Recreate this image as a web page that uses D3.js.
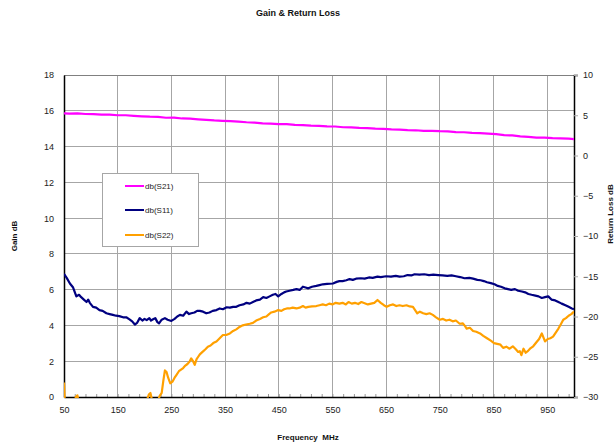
<!DOCTYPE html>
<html><head><meta charset="utf-8">
<script src="https://cdn.jsdelivr.net/npm/d3@7/dist/d3.min.js"></script>
<style>
html,body{margin:0;padding:0;background:#fff;}
svg{display:block;font-family:"Liberation Sans",Arial,sans-serif;}
</style></head><body>
<svg id="chart" width="615" height="446"></svg>
<script>
const xTicks = [50,150,250,350,450,550,650,750,850,950];
const yLeftTicks = [0,2,4,6,8,10,12,14,16,18];
const yRightTicks = [-30,-25,-20,-15,-10,-5,0,5,10];
const seriesNames = ["db(S21)","db(S11)","db(S22)"];

const s21Freq = [50,60,75,90,105,120,135,150,165,180,195,210,225,240,255,270,285,300,315,330,345,360,375,390,405,420,435,450,465,480,495,510,525,540,555,570,585,600,615,630,645,660,675,690,705,720,735,750,765,780,795,810,825,840,855,870,885,900,915,930,945,960,975,990,1000];
const s21 = [15.86,15.84,15.85,15.82,15.81,15.78,15.78,15.75,15.75,15.72,15.69,15.67,15.66,15.61,15.62,15.57,15.56,15.52,15.49,15.46,15.44,15.42,15.39,15.36,15.34,15.3,15.28,15.25,15.25,15.21,15.2,15.17,15.16,15.13,15.12,15.08,15.07,15.04,15.03,15.0,14.99,14.96,14.95,14.92,14.91,14.88,14.88,14.86,14.85,14.81,14.8,14.77,14.75,14.72,14.69,14.64,14.62,14.57,14.54,14.5,14.5,14.47,14.46,14.44,14.42];

const s11Freq = [50,55,61,67,73,78,82,87,92,95,98,104,110,116,122,129,135,141,147,153,160,166,172,177,182,186,191,196,200,204,209,212,216,220,224,227,232,238,243,250,256,261,266,272,278,283,287,293,298,303,309,315,321,327,334,340,346,353,359,365,371,377,384,390,396,402,408,415,421,427,433,439,444,449,455,460,464,470,477,483,489,495,500,505,512,520,526,532,540,551,558,563,569,576,582,588,594,603,610,618,625,634,640,650,659,668,675,683,690,697,703,712,721,730,738,747,755,764,772,780,788,796,805,812,820,826,832,838,845,852,858,864,871,877,883,890,896,903,909,915,921,928,934,940,946,952,958,965,971,977,984,990,996,1000];
const s11 = [-14.7,-15.2,-15.9,-16.4,-17.5,-17.3,-17.6,-17.9,-18.2,-17.9,-18.3,-18.8,-18.9,-19.2,-19.3,-19.6,-19.7,-19.8,-19.9,-19.95,-20.1,-20.1,-20.35,-20.6,-21.0,-20.8,-20.2,-20.5,-20.3,-20.45,-20.2,-20.5,-20.35,-20.2,-20.7,-20.85,-20.4,-20.2,-20.4,-20.55,-20.3,-20.0,-19.8,-19.9,-19.4,-19.7,-19.6,-19.5,-19.3,-19.3,-19.4,-19.6,-19.5,-19.3,-19.2,-19.0,-19.1,-18.85,-18.9,-18.8,-18.8,-18.6,-18.5,-18.3,-18.4,-18.2,-18.0,-17.9,-17.6,-17.7,-17.5,-17.3,-17.2,-17.5,-17.2,-17.0,-16.9,-16.8,-16.7,-16.6,-16.7,-16.3,-16.4,-16.5,-16.3,-16.2,-16.1,-16.0,-15.95,-15.9,-15.7,-15.6,-15.6,-15.5,-15.35,-15.45,-15.3,-15.25,-15.3,-15.15,-15.2,-15.05,-15.1,-15.0,-15.05,-14.95,-15.05,-15.0,-14.85,-14.9,-14.75,-14.8,-14.75,-14.85,-14.8,-14.85,-14.9,-14.95,-14.9,-15.0,-15.1,-15.25,-15.2,-15.3,-15.45,-15.5,-15.6,-15.75,-15.85,-16.0,-16.2,-16.3,-16.5,-16.6,-16.7,-16.6,-16.8,-16.9,-17.0,-17.2,-17.3,-17.4,-17.5,-17.7,-17.6,-17.5,-17.9,-18.0,-18.2,-18.4,-18.6,-18.8,-19.0,-19.1];

const s22Freq = [50,52,60,70,72,75,78,90,120,150,180,200,205,208,211,214,218,225,228,232,235,238,241,244,248,252,256,259,264,268,272,276,280,284,287,290,293.5,297,300,303,308,313,318,323,328,334,340,346,352,359,365,371,377,383,389,396,402,408,415,421,427,432,436,442,449,455,460,465,470,476,483,489,495,500,505,512,520,526,532,538,544,550,556,563,569,575,580,586,592,598,604,610,616,622,628,634,640,646,651,657,663,669,675,681,688,694,700,704,708,713,719,725,731,737,743,750,756,762,768,774,780,787,793,797,800,806,812,818,825,831,838,845,851,857,863,868,874,880,886,892,896,899,902,906,910,914,918,924,930,935,940,943,946,951,956,961,966,971,976,980,985,990,995,1000];
const s22 = [-28.2,-31.5,-32,-31,-30.0,-29.8,-31,-32,-32,-32,-32,-31,-30.3,-29.7,-29.5,-30.4,-31,-30.5,-29.9,-29.5,-28.0,-26.7,-26.9,-27.6,-28.3,-28.1,-27.6,-27.3,-26.8,-26.6,-26.4,-26.1,-25.9,-25.6,-25.2,-25.5,-26.0,-25.3,-25.0,-24.7,-24.4,-24.1,-23.75,-23.6,-23.3,-23.1,-22.7,-22.3,-22.3,-22.1,-21.8,-21.6,-21.3,-21.1,-21.0,-20.9,-20.8,-20.5,-20.3,-20.1,-20.0,-19.7,-19.5,-19.4,-19.2,-19.3,-19.1,-19.0,-19.0,-18.9,-19.0,-18.9,-18.7,-18.9,-18.8,-18.75,-18.7,-18.6,-18.5,-18.6,-18.4,-18.5,-18.3,-18.4,-18.3,-18.5,-18.2,-18.4,-18.3,-18.45,-18.2,-18.35,-18.5,-18.4,-18.3,-17.95,-18.3,-18.6,-18.8,-18.6,-18.5,-18.7,-18.6,-18.7,-18.6,-18.75,-18.8,-19.2,-19.6,-19.4,-19.6,-19.7,-19.6,-19.8,-20.1,-20.4,-20.3,-20.5,-20.4,-20.6,-20.5,-20.9,-20.85,-21.2,-21.5,-21.4,-21.8,-21.9,-22.1,-22.4,-22.7,-23.0,-23.3,-23.4,-23.5,-23.9,-23.75,-24.0,-23.7,-24.1,-24.4,-24.3,-24.8,-24.0,-24.5,-24.3,-24.0,-23.7,-23.2,-22.8,-22.1,-22.6,-23.1,-22.8,-22.7,-22.5,-22.0,-21.5,-20.9,-20.4,-20.2,-19.9,-19.7,-19.4];

const svg = d3.select("#chart");
svg.append("rect").attr("width",615).attr("height",446).attr("fill","#fff");

const L = 64, R = 574, T = 75, B = 397;
const x = d3.scaleLinear().domain([50,1000]).range([L,R]);
const yL = d3.scaleLinear().domain([0,18]).range([B,T]);
const yR = d3.scaleLinear().domain([-30,10]).range([B,T]);

// grid
const grid = svg.append("g");
grid.selectAll(".vg").data(xTicks.slice(1)).join("line")
  .attr("x1",d=>x(d)).attr("x2",d=>x(d)).attr("y1",T).attr("y2",B)
  .attr("stroke","#a6a6a6").attr("stroke-width",1).attr("shape-rendering","crispEdges");
grid.selectAll(".hg").data(yLeftTicks.slice(1)).join("line")
  .attr("x1",L).attr("x2",R).attr("y1",d=>yL(d)).attr("y2",d=>yL(d))
  .attr("stroke",d=>d===18?"#808080":"#a6a6a6").attr("stroke-width",1).attr("shape-rendering","crispEdges");

// minor ticks on bottom
const minor = d3.range(50,1001,20);
svg.append("g").attr("transform",`translate(0,${B})`)
  .call(d3.axisBottom(x).tickValues(minor).tickSize(-3).tickFormat(""))
  .call(g=>g.select(".domain").remove())
  .call(g=>g.selectAll("line").attr("stroke","#999"));

// bottom axis
const xa = svg.append("g").attr("transform",`translate(0,${B})`)
  .call(d3.axisBottom(x).tickValues(xTicks).tickSize(0).tickPadding(10).tickFormat(d3.format("d")));
xa.select(".domain").attr("stroke","#000").attr("stroke-width",1.5);
xa.selectAll("text").attr("font-size",9).attr("fill","#222").attr("font-family","Liberation Sans, Arial, sans-serif");

// left axis
const la = svg.append("g").attr("transform",`translate(${L},0)`)
  .call(d3.axisLeft(yL).tickValues(yLeftTicks).tickSize(0).tickPadding(10));
la.select(".domain").attr("stroke","#000").attr("stroke-width",1.5);
la.selectAll("text").attr("font-size",9).attr("fill","#222").attr("font-family","Liberation Sans, Arial, sans-serif");

// right axis
const ra = svg.append("g").attr("transform",`translate(${R},0)`)
  .call(d3.axisRight(yR).tickValues(yRightTicks).tickSize(4).tickPadding(5));
ra.select(".domain").attr("stroke","#000").attr("stroke-width",1.5);
ra.selectAll("line").attr("stroke","#aaa");
ra.selectAll("text").attr("font-size",9).attr("fill","#222").attr("font-family","Liberation Sans, Arial, sans-serif");

// clip
svg.append("clipPath").attr("id","pc").append("rect")
  .attr("x",L).attr("y",T).attr("width",R-L).attr("height",B-T+1);

const plot = svg.append("g").attr("clip-path","url(#pc)");
const lineL = d3.line().x(d=>x(d[0])).y(d=>yL(d[1]));
const lineR = d3.line().x(d=>x(d[0])).y(d=>yR(d[1]));
const colors = ["#ff00ff","#000080","#ffa000"];

plot.append("path").datum(s22Freq.map((f,i)=>[f,s22[i]]))
  .attr("d",lineR).attr("fill","none").attr("stroke",colors[2]).attr("stroke-width",2.2).attr("stroke-linejoin","round");
plot.append("path").datum(s11Freq.map((f,i)=>[f,s11[i]]))
  .attr("d",lineR).attr("fill","none").attr("stroke",colors[1]).attr("stroke-width",2.2).attr("stroke-linejoin","round");
plot.append("path").datum(s21Freq.map((f,i)=>[f,s21[i]]))
  .attr("d",lineL).attr("fill","none").attr("stroke",colors[0]).attr("stroke-width",2.2).attr("stroke-linejoin","round");

// legend
const lg = svg.append("g");
lg.append("rect").attr("x",102.5).attr("y",173.5).attr("width",96).attr("height",73)
  .attr("fill","#fff").attr("stroke","#a6a6a6").attr("stroke-width",1);
const ly = [186,210,235];
seriesNames.forEach((n,i)=>{
  lg.append("line").attr("x1",125).attr("x2",144).attr("y1",ly[i]).attr("y2",ly[i])
    .attr("stroke",colors[i]).attr("stroke-width",2);
  lg.append("text").attr("x",145).attr("y",ly[i]+3).attr("font-size",8).attr("fill","#222").text(n);
});

// titles
svg.append("text").attr("x",298).attr("y",16).attr("text-anchor","middle")
  .attr("font-size",9).attr("font-weight","bold").attr("fill","#111").text("Gain & Return Loss");
svg.append("text").attr("x",308).attr("y",440).attr("text-anchor","middle")
  .attr("font-size",8).attr("font-weight","bold").attr("fill","#111").attr("xml:space","preserve").text("Frequency  MHz");
svg.append("text").attr("transform","translate(17,236) rotate(-90)").attr("text-anchor","middle")
  .attr("font-size",8).attr("font-weight","bold").attr("fill","#111").text("Gain dB");
svg.append("text").attr("transform","translate(613,214) rotate(-90)").attr("text-anchor","middle")
  .attr("font-size",8).attr("font-weight","bold").attr("fill","#111").text("Return Loss dB");
</script>
</body></html>
